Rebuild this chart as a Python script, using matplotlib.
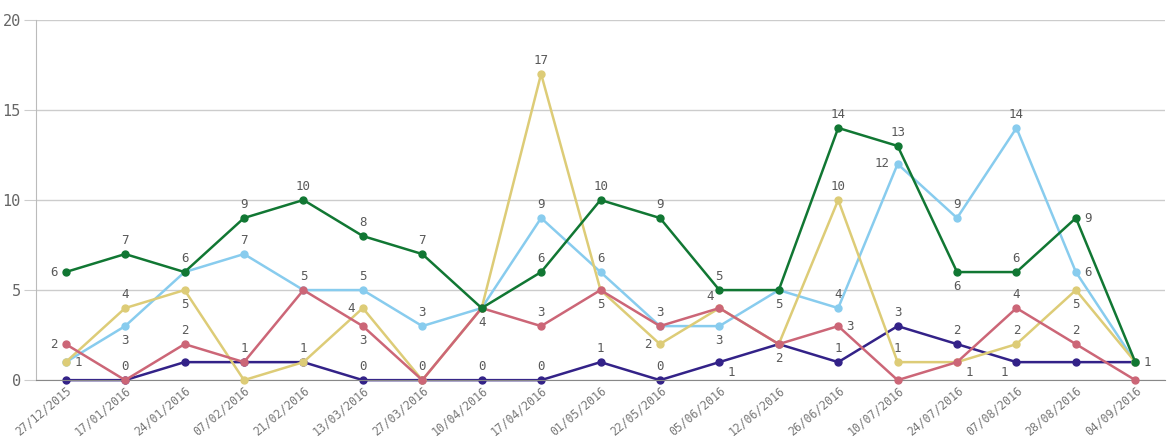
import matplotlib
matplotlib.use("Agg")
import matplotlib.pyplot as plt

dates = ["27/12/2015", "17/01/2016", "24/01/2016", "07/02/2016", "21/02/2016",
         "13/03/2016", "27/03/2016", "10/04/2016", "17/04/2016", "01/05/2016",
         "22/05/2016", "05/06/2016", "12/06/2016", "26/06/2016", "10/07/2016",
         "24/07/2016", "07/08/2016", "28/08/2016", "04/09/2016"]

green  = [6, 7, 6, 9, 10, 8, 7, 4, 6, 10, 9, 5, 5, 14, 13, 6, 6, 9, 1]
blue   = [1, 3, 6, 7, 5, 5, 3, 4, 9, 6, 3, 3, 5, 4, 12, 9, 14, 6, 1]
yellow = [1, 4, 5, 0, 1, 4, 0, 4, 17, 5, 2, 4, 2, 10, 1, 1, 2, 5, 1]
red    = [2, 0, 2, 1, 5, 3, 0, 4, 3, 5, 3, 4, 2, 3, 0, 1, 4, 2, 0]
purple = [0, 0, 1, 1, 1, 0, 0, 0, 0, 1, 0, 1, 2, 1, 3, 2, 1, 1, 1]

series = {
    "purple": (purple, "#332288", 2),
    "blue": (blue, "#88ccee", 3),
    "yellow": (yellow, "#ddcc77", 4),
    "red": (red, "#cc6677", 5),
    "green": (green, "#117733", 6),
}

# value labels: (series, index, placement)
labels = [
    ("green", 0, "left"), ("red", 0, "left"), ("blue", 0, "right"),
    ("green", 1, "above"), ("yellow", 1, "above"), ("blue", 1, "below"), ("red", 1, "above"),
    ("green", 2, "above"), ("yellow", 2, "below"), ("red", 2, "above"),
    ("green", 3, "above"), ("blue", 3, "above"), ("red", 3, "above"),
    ("green", 4, "above"), ("red", 4, "above"), ("purple", 4, "above"),
    ("green", 5, "above"), ("blue", 5, "above"), ("yellow", 5, "left"), ("red", 5, "below"), ("purple", 5, "above"),
    ("green", 6, "above"), ("blue", 6, "above"), ("red", 6, "above"),
    ("green", 7, "below"), ("purple", 7, "above"),
    ("yellow", 8, "above"), ("blue", 8, "above"), ("green", 8, "above"), ("red", 8, "above"), ("purple", 8, "above"),
    ("green", 9, "above"), ("blue", 9, "above"), ("red", 9, "below"), ("purple", 9, "above"),
    ("green", 10, "above"), ("red", 10, "above"), ("yellow", 10, "left"), ("purple", 10, "above"),
    ("green", 11, "above"), ("red", 11, "aboveleft"), ("blue", 11, "below"), ("purple", 11, "belowright"),
    ("green", 12, "below"), ("red", 12, "below"),
    ("green", 13, "above"), ("yellow", 13, "above"), ("blue", 13, "above"), ("red", 13, "right"), ("purple", 13, "above"),
    ("green", 14, "above"), ("blue", 14, "left"), ("purple", 14, "above"), ("yellow", 14, "above"),
    ("blue", 15, "above"), ("green", 15, "below"), ("purple", 15, "above"), ("red", 15, "belowright"),
    ("blue", 16, "above"), ("green", 16, "above"), ("red", 16, "above"), ("yellow", 16, "above"), ("purple", 16, "belowleft"),
    ("green", 17, "right"), ("blue", 17, "right"), ("yellow", 17, "below"), ("red", 17, "above"),
    ("yellow", 18, "right"),
]

placements = {
    "above": ((0, 5), "center", "bottom"),
    "below": ((0, -6), "center", "top"),
    "left": ((-6, 0), "right", "center"),
    "right": ((6, 0), "left", "center"),
    "aboveleft": ((-4, 4), "right", "bottom"),
    "belowright": ((6, -3), "left", "top"),
    "belowleft": ((-6, -3), "right", "top"),
}

font = "DejaVu Sans Mono"
grey = "#595959"

fig = plt.figure(figsize=(11.73, 4.41), dpi=100)
ax = fig.add_axes([0.0307, 0.138, 0.9625, 0.817])

x = list(range(len(dates)))
for name, (vals, color, z) in series.items():
    ax.plot(x, vals, color=color, lw=1.8, marker="o", markersize=5, zorder=z,
            clip_on=False)

for name, i, pl in labels:
    vals = series[name][0]
    off, ha, va = placements[pl]
    ax.annotate(str(vals[i]), (i, vals[i]), xytext=off, textcoords="offset points",
                ha=ha, va=va, fontsize=9, color=grey, family=font, zorder=10)

ax.set_xlim(-0.5, 18.5)
ax.set_ylim(0, 20)
ax.set_yticks([0, 5, 10, 15, 20])
ax.set_yticklabels(["0", "5", "10", "15", "20"], family=font, fontsize=11, color="#666666")
ax.set_xticks(x)
ax.set_xticklabels(dates, rotation=40, ha="right", va="top", rotation_mode="anchor",
                   family=font, fontsize=8.3, color="#777777")
ax.grid(axis="y", color="#cccccc", lw=1)
ax.set_axisbelow(True)
for s in ["top", "right"]:
    ax.spines[s].set_visible(False)
ax.spines["left"].set_color("#bbbbbb")
ax.spines["bottom"].set_color("#888888")
ax.tick_params(axis="y", length=9, color="#cccccc", pad=2)
ax.tick_params(axis="x", length=0, pad=3)
for t in ax.get_xticklabels():
    t.set_x(0)

fig.savefig("out.png", dpi=100)
